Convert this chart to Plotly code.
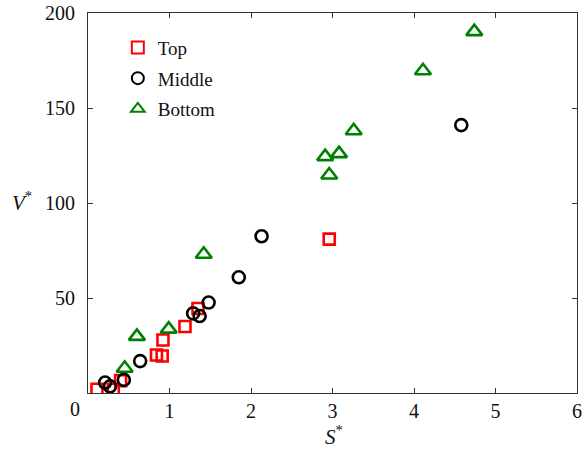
import plotly.graph_objects as go

# Measured scaling data: dimensionless S* vs V* at three positions
top_s = [0.11, 0.31, 0.40, 0.84, 0.91, 0.92, 1.19, 1.35, 2.96]
top_v = [2.0, 2.0, 6.5, 20.0, 19.5, 27.9, 35.0, 44.5, 81.0]

mid_s = [0.21, 0.27, 0.44, 0.64, 1.29, 1.37, 1.48, 1.85, 2.13, 4.58]
mid_v = [5.5, 3.5, 6.9, 16.8, 41.9, 40.5, 47.6, 60.9, 82.5, 141.0]

bot_s = [0.45, 0.60, 0.99, 1.42, 2.91, 2.96, 3.08, 3.26, 4.11, 4.74]
bot_v = [13.0, 29.8, 33.6, 73.0, 124.4, 114.7, 126.0, 138.0, 169.6, 190.2]

x_ticks = [1, 2, 3, 4, 5, 6]
y_ticks = [50, 100, 150, 200]

FONT = "Liberation Serif"
TXT = "#111111"

fig = go.Figure()
fig.add_trace(go.Scatter(
    x=top_s, y=top_v, mode="markers", name="Top", legendgroup="top",
    marker=dict(symbol="square-open", size=11, color="#ff0000",
                line=dict(width=2.6, color="#ff0000")),
))
fig.add_trace(go.Scatter(
    x=mid_s, y=mid_v, mode="markers", name="Middle", legendgroup="mid",
    marker=dict(symbol="circle-open", size=12, color="#000000",
                line=dict(width=2.6, color="#000000")),
))
fig.add_trace(go.Scatter(
    x=bot_s, y=bot_v, mode="markers", name="Bottom", legendgroup="bot",
    marker=dict(symbol="triangle-up-open", size=14, color="#008000",
                line=dict(width=2.6, color="#008000")),
))

axis_common = dict(
    showline=True, linecolor="#333333", linewidth=1, mirror="ticks",
    ticks="inside", ticklen=5, tickcolor="#333333", showgrid=False,
    zeroline=False, automargin=False,
    tickfont=dict(family=FONT, size=20, color=TXT),
)

fig.update_xaxes(range=[0, 6], tickvals=x_ticks,
                 ticktext=[str(t) for t in x_ticks], **axis_common)
fig.update_yaxes(range=[0, 200], tickvals=y_ticks,
                 ticktext=[str(t) for t in y_ticks],
                 ticklabelstandoff=8, **axis_common)

fig.update_layout(
    template="none",
    width=583, height=451,
    margin=dict(l=88, r=6, t=13, b=58),
    paper_bgcolor="white", plot_bgcolor="white",
    showlegend=True,
    legend=dict(x=0.061, y=0.959, xanchor="left", yanchor="top",
                bgcolor="rgba(0,0,0,0)", borderwidth=0,
                font=dict(family=FONT, size=19, color=TXT),
                itemsizing="constant", tracegroupgap=3),
    annotations=[
        # shared origin label
        dict(text="0", x=(75 - 88) / 489, y=(393 - 409) / 380,
             xref="paper", yref="paper", xanchor="center", yanchor="middle",
             showarrow=False, font=dict(family=FONT, size=20, color=TXT)),
        dict(text="<i>S</i><sup>*</sup>", x=0.503, y=-0.113, xref="paper", yref="paper",
             xanchor="center", yanchor="middle", showarrow=False,
             font=dict(family=FONT, size=21, color=TXT)),
        dict(text="<i>V</i><sup>*</sup>", x=-0.135, y=0.505, xref="paper", yref="paper",
             xanchor="center", yanchor="middle", showarrow=False,
             font=dict(family=FONT, size=21, color=TXT)),
    ],
)

fig.write_html("out.html")
